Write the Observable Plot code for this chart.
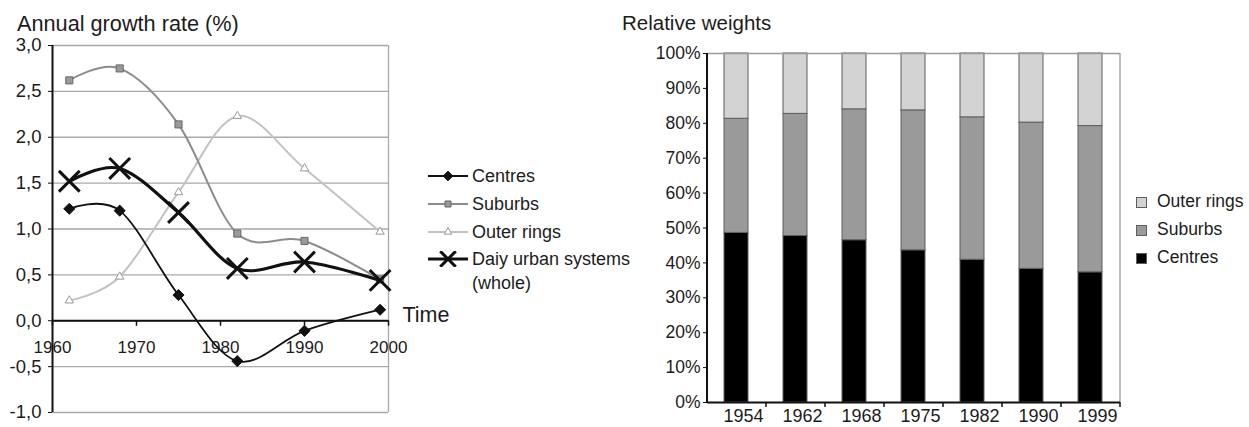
<!DOCTYPE html>
<html><head><meta charset="utf-8">
<script src="https://cdn.jsdelivr.net/npm/d3@7"></script>
<script src="https://cdn.jsdelivr.net/npm/@observablehq/plot@0.6"></script>
<style>
body{margin:0;background:#fff;font-family:"Liberation Sans",Arial,sans-serif;color:#1c1c1c}
#wrap{position:relative;width:1249px;height:427px;overflow:hidden;background:#fff}
.abs{position:absolute;white-space:nowrap;line-height:1}
.abs svg{display:block}
</style></head><body><div id="wrap"></div>
<script>
// ---- Left chart: annual growth rate (%) ----
const growthYears = [1962, 1968, 1975, 1982, 1990, 1999];
const centresGrowth = [1.22, 1.20, 0.28, -0.44, -0.11, 0.12];
const suburbsGrowth = [2.62, 2.75, 2.14, 0.95, 0.87, 0.45];
const outerGrowth = [0.22, 0.48, 1.40, 2.23, 1.66, 0.97];
const wholeGrowth = [1.52, 1.66, 1.18, 0.57, 0.64, 0.44];
const growthTicks = [-1, -0.5, 0, 0.5, 1, 1.5, 2, 2.5, 3];
const decadeTicks = [1960, 1970, 1980, 1990, 2000];

// ---- Right chart: relative weights (%) ----
const weightYears = ["1954", "1962", "1968", "1975", "1982", "1990", "1999"];
const centresShare = [48.6, 47.7, 46.5, 43.6, 40.9, 38.3, 37.3];
const suburbsShare = [32.7, 35.0, 37.5, 40.1, 40.8, 41.9, 41.9];
const outerShare = [18.7, 17.3, 16.0, 16.3, 18.3, 19.8, 20.8];
const shareTicks = [0, 10, 20, 30, 40, 50, 60, 70, 80, 90, 100];

const FONT = '"Liberation Sans", Arial, sans-serif';
const wrap = document.getElementById("wrap");

function place(node, left, top) {
  const d = document.createElement("div");
  d.className = "abs";
  d.style.left = left + "px";
  d.style.top = top + "px";
  d.appendChild(node);
  wrap.appendChild(d);
  return d;
}
function label(text, left, baseline, size) {
  const s = document.createElement("span");
  s.textContent = text;
  s.style.fontSize = size + "px";
  const d = place(s, left, baseline - 0.8465 * size);
  d.style.fontSize = size + "px";
  return d;
}

const series = (vals) => growthYears.map((year, i) => ({year, value: vals[i]}));
const fmtComma = (d) => d.toFixed(1).replace(".", ",");

const left = Plot.plot({
  width: 470, height: 427,
  marginLeft: 52, marginRight: 82, marginTop: 45, marginBottom: 15,
  style: {fontFamily: FONT, background: "transparent", color: "#1c1c1c", overflow: "visible"},
  x: {domain: [1960, 2000], axis: null},
  y: {domain: [-1, 3], axis: null},
  marks: [
    Plot.ruleY(growthTicks, {stroke: "#a9a9a9", strokeWidth: 1.3}),
    Plot.ruleX(decadeTicks.slice(-1), {stroke: "#a9a9a9", strokeWidth: 1.3}),
    Plot.ruleX(decadeTicks.slice(0, 1), {stroke: "#111", strokeWidth: 2}),
    Plot.ruleY([0], {stroke: "#111", strokeWidth: 2}),
    Plot.ruleX(decadeTicks, {x: (d) => d, y1: 0, y2: -0.06, stroke: "#111", strokeWidth: 1.5}),
    Plot.text(decadeTicks, {x: (d) => d, y: 0, dy: 27, text: (d) => String(d), fontSize: 17, fill: "#1c1c1c"}),
    Plot.text(["Time"], {x: decadeTicks[decadeTicks.length - 1], y: 0, dx: 14, dy: -6, textAnchor: "start", fontSize: 21.5, fill: "#1c1c1c"}),
    Plot.axisY({ticks: growthTicks, tickFormat: fmtComma, tickSize: 4, tickPadding: 7, fontSize: 18.5, stroke: "#111", label: null}),
    // Outer rings
    Plot.line(series(outerGrowth), {x: "year", y: "value", curve: "cardinal", stroke: "#c2c2c2", strokeWidth: 2}),
    Plot.dot(series(outerGrowth), {x: "year", y: "value", symbol: "triangle2", r: 4, fill: "#fff", stroke: "#9a9a9a", strokeWidth: 1}),
    // Suburbs
    Plot.line(series(suburbsGrowth), {x: "year", y: "value", curve: "cardinal", stroke: "#8c8c8c", strokeWidth: 2}),
    Plot.dot(series(suburbsGrowth), {x: "year", y: "value", symbol: "square", r: 4, fill: "#9a9a9a", stroke: "#666", strokeWidth: 1}),
    // Centres
    Plot.line(series(centresGrowth), {x: "year", y: "value", curve: "cardinal", stroke: "#111", strokeWidth: 1.8}),
    Plot.dot(series(centresGrowth), {x: "year", y: "value", symbol: "diamond2", r: 5, fill: "#111", stroke: "#111", strokeWidth: 1}),
    // Whole
    Plot.line(series(wholeGrowth), {x: "year", y: "value", curve: "cardinal", stroke: "#111", strokeWidth: 3.2}),
    Plot.dot(series(wholeGrowth), {x: "year", y: "value", symbol: "times", r: 9.5, stroke: "#111", strokeWidth: 3})
  ]
});
place(left, 0, 0);
label("Annual growth rate (%)", 17, 31, 21.7);

// Left legend
function sample(color, width, type, size, fill, stroke, sw) {
  const svg = d3.create("svg").attr("width", 40).attr("height", 16);
  svg.append("line").attr("x1", 0).attr("x2", 40).attr("y1", 8).attr("y2", 8)
    .attr("stroke", color).attr("stroke-width", width);
  svg.append("path").attr("transform", "translate(20,8)")
    .attr("d", d3.symbol(type, size)()).attr("fill", fill).attr("stroke", stroke).attr("stroke-width", sw);
  return svg.node();
}
const legendLeft = [
  {name: "Centres", cy: 176, s: sample("#111", 2, d3.symbolDiamond2, 60, "#111", "#111", 1)},
  {name: "Suburbs", cy: 204, s: sample("#8c8c8c", 2, d3.symbolSquare, 36, "#9a9a9a", "#666", 1)},
  {name: "Outer rings", cy: 232, s: sample("#c2c2c2", 2, d3.symbolTriangle2, 40, "#fff", "#9a9a9a", 1)},
  {name: "Daiy urban systems", cy: 258.5, s: sample("#111", 3.2, d3.symbolTimes, 160, "none", "#111", 3)}
];
for (const it of legendLeft) {
  place(it.s, 428, it.cy - 8);
  label(it.name, 472, it.cy + 6.5, 18);
}
label("(whole)", 472, 289, 18);

// ---- Right chart ----
const shareRows = weightYears.flatMap((year, i) => [
  {year, part: "Centres", value: centresShare[i]},
  {year, part: "Suburbs", value: suburbsShare[i]},
  {year, part: "Outer rings", value: outerShare[i]}
]);
const RW = 520, RML = 97, RMR = 10;
const step = (RW - RML - RMR) / weightYears.length;
const right = Plot.plot({
  width: RW, height: 427,
  marginLeft: RML, marginRight: RMR, marginTop: 53, marginBottom: 25,
  style: {fontFamily: FONT, background: "transparent", color: "#1c1c1c", overflow: "visible"},
  x: {domain: weightYears, paddingInner: 0.59, paddingOuter: 0.295, axis: null},
  y: {domain: [0, 100], axis: null},
  color: {domain: ["Centres", "Suburbs", "Outer rings"], range: ["#000", "#9a9a9a", "#d3d3d3"]},
  marks: [
    Plot.barY(shareRows, {x: "year", y: "value", fill: "part", stroke: "#5e5e5e", strokeWidth: 1}),
    Plot.ruleY([100], {stroke: "#9a9a9a", strokeWidth: 1.3}),
    Plot.ruleX(weightYears.slice(-1), {x: (d) => d, dx: step / 2, stroke: "#9a9a9a", strokeWidth: 1.3}),
    Plot.ruleX(weightYears.slice(0, 1), {x: (d) => d, dx: -step / 2, stroke: "#111", strokeWidth: 2}),
    Plot.ruleY([0], {stroke: "#111", strokeWidth: 2}),
    Plot.ruleX(weightYears, {x: (d) => d, dx: step / 2, y1: 0, y2: -1.4, stroke: "#111", strokeWidth: 1.5}),
    Plot.axisY({ticks: shareTicks, tickFormat: (d) => d + "%", tickSize: 4, tickPadding: 3, fontSize: 17.5, stroke: "#111", label: null}),
    Plot.axisX({tickSize: 0, tickPadding: 7, dx: 7, fontSize: 18, label: null})
  ]
});
place(right, 610, 0);
label("Relative weights", 622, 30, 20.5);

// Right legend
const legendRight = [
  {name: "Outer rings", fill: "#d3d3d3", cy: 202},
  {name: "Suburbs", fill: "#9a9a9a", cy: 230},
  {name: "Centres", fill: "#000", cy: 258}
];
for (const it of legendRight) {
  const sq = d3.create("svg").attr("width", 11).attr("height", 11);
  sq.append("rect").attr("x", 0.5).attr("y", 0.5).attr("width", 10).attr("height", 10)
    .attr("fill", it.fill).attr("stroke", "#5e5e5e");
  place(sq.node(), 1136, it.cy - 5.5);
  label(it.name, 1157, it.cy + 6.3, 17.5);
}
</script></body></html>
